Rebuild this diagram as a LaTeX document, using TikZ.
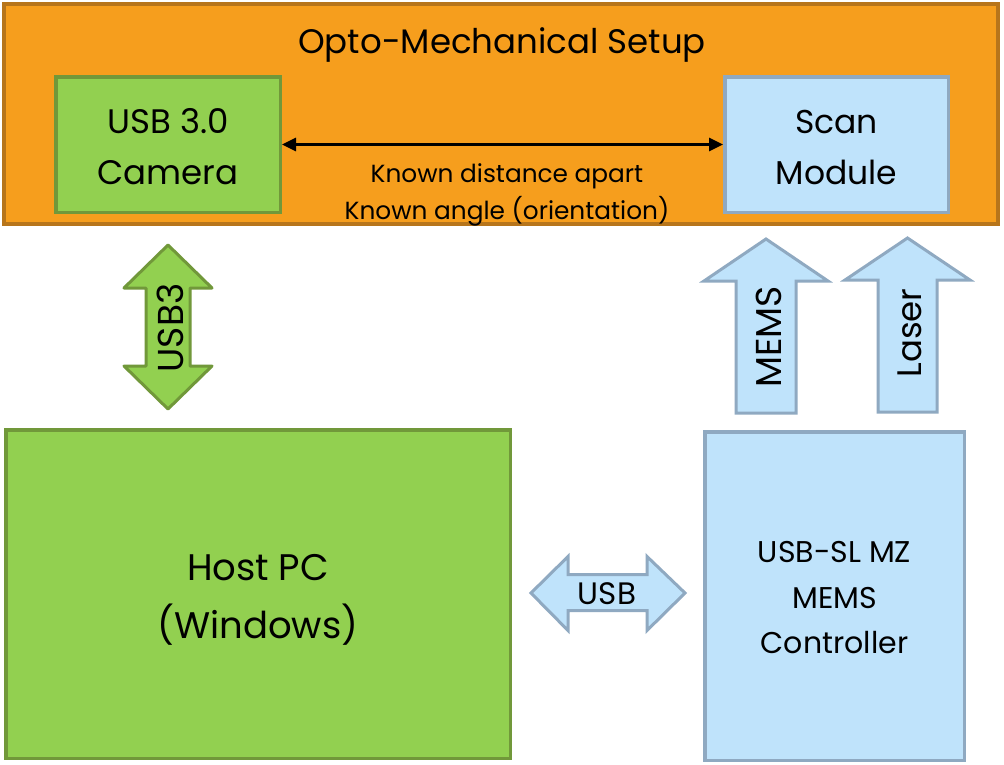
\documentclass[tikz,border=0pt]{standalone}
\usepackage{fontspec}
\setmainfont{Poppins}
\usetikzlibrary{arrows.meta}
\definecolor{orfill}{RGB}{246,158,29}
\definecolor{ordraw}{RGB}{183,117,27}
\definecolor{grfill}{RGB}{146,208,80}
\definecolor{grdraw}{RGB}{113,152,58}
\definecolor{blfill}{RGB}{191,227,251}
\definecolor{bldraw}{RGB}{143,169,193}
\begin{document}
\begin{tikzpicture}[x=1pt,y=-1pt,
  greenbox/.style={draw=grdraw,fill=grfill,line width=3.5pt,inner sep=0pt},
  bluebox/.style={draw=bldraw,fill=blfill,line width=3.5pt,inner sep=0pt},
  boxtext/.style={inner sep=0pt,align=center},
  greenarrow/.style={draw=grdraw,fill=grfill,line width=3pt,line join=round},
  bluearrow/.style={draw=bldraw,fill=blfill,line width=3pt,line join=miter},
  arrowlabel/.style={inner sep=0pt}
]
\useasboundingbox (0,0) rectangle (1004,764);
\fill[white] (0,0) rectangle (1004,764);

\node[draw=ordraw, fill=orfill, line width=4pt, minimum width=994pt, minimum height=220pt, inner sep=0pt] (setup) at (501,114) {};
\node[inner sep=0pt, font=\fontsize{34}{40}\selectfont] (title) at (502,45) {Opto-Mechanical Setup};

\node[greenbox, minimum width=224.5pt, minimum height=135.5pt] (camera) at (168,144.5) {};
\node[boxtext, font=\fontsize{34}{51}\selectfont] (cameratext) at ([yshift=-2.5pt]camera.center) {USB 3.0\\Camera};
\node[bluebox, minimum width=223.5pt, minimum height=135.5pt] (scan) at (836.5,144.5) {};
\node[boxtext, font=\fontsize{33}{51}\selectfont] (scantext) at ([yshift=-3pt]scan.center) {Scan\\Module};

\draw[line width=3pt, {Triangle[length=14pt,width=13pt]}-{Triangle[length=14pt,width=13pt]}] (camera) -- (scan);
\node[boxtext, font=\fontsize{24.8}{37}\selectfont] (known) at (507,195) {Known distance apart\\Known angle (orientation)};

\node[greenbox, minimum width=504.5pt, minimum height=328.5pt] (pc) at (258,594) {};
\node[boxtext, font=\fontsize{37}{58}\selectfont] (pctext) at ([yshift=-6pt]pc.center) {Host PC\\(Windows)};
\node[bluebox, minimum width=259.5pt, minimum height=328.5pt] (ctrl) at (834.5,596) {};
\node[boxtext, font=\fontsize{30}{45.5}\selectfont] (ctrltext) at ([yshift=-2pt]ctrl.center) {USB-SL MZ\\MEMS\\Controller};

% USB3 double arrow (camera <-> PC)
\draw[greenarrow] (168,245) -- (212,288) -- (190,288) -- (190,366) -- (212,366) -- (168,409) -- (124,366) -- (146,366) -- (146,288) -- (124,288) -- cycle;
\node[arrowlabel, rotate=90, font=\fontsize{36}{40}\selectfont] (usb3) at (170,328) {USB3};

% MEMS arrow (controller -> scan)
\draw[bluearrow] (766,239) -- (828,281) -- (796,281) -- (796,413) -- (736,413) -- (736,281) -- (704,281) -- cycle;
\node[arrowlabel, rotate=90, font=\fontsize{36}{40}\selectfont] (mems) at (769,337) {MEMS};

% Laser arrow (controller -> scan)
\draw[bluearrow] (907.5,238) -- (970,280) -- (937,280) -- (937,412) -- (878,412) -- (878,280) -- (845,280) -- cycle;
\node[arrowlabel, rotate=90, font=\fontsize{34}{40}\selectfont] (laser) at (910,333) {Laser};

% USB double arrow (PC <-> controller)
\draw[bluearrow] (531,593) -- (568,556.5) -- (568,574.5) -- (647,574.5) -- (647,556.5) -- (685,593) -- (647,630.5) -- (647,610.5) -- (568,610.5) -- (568,630.5) -- cycle;
\node[arrowlabel, font=\fontsize{31}{36}\selectfont] (usb) at (607,594) {USB};
\end{tikzpicture}
\end{document}
